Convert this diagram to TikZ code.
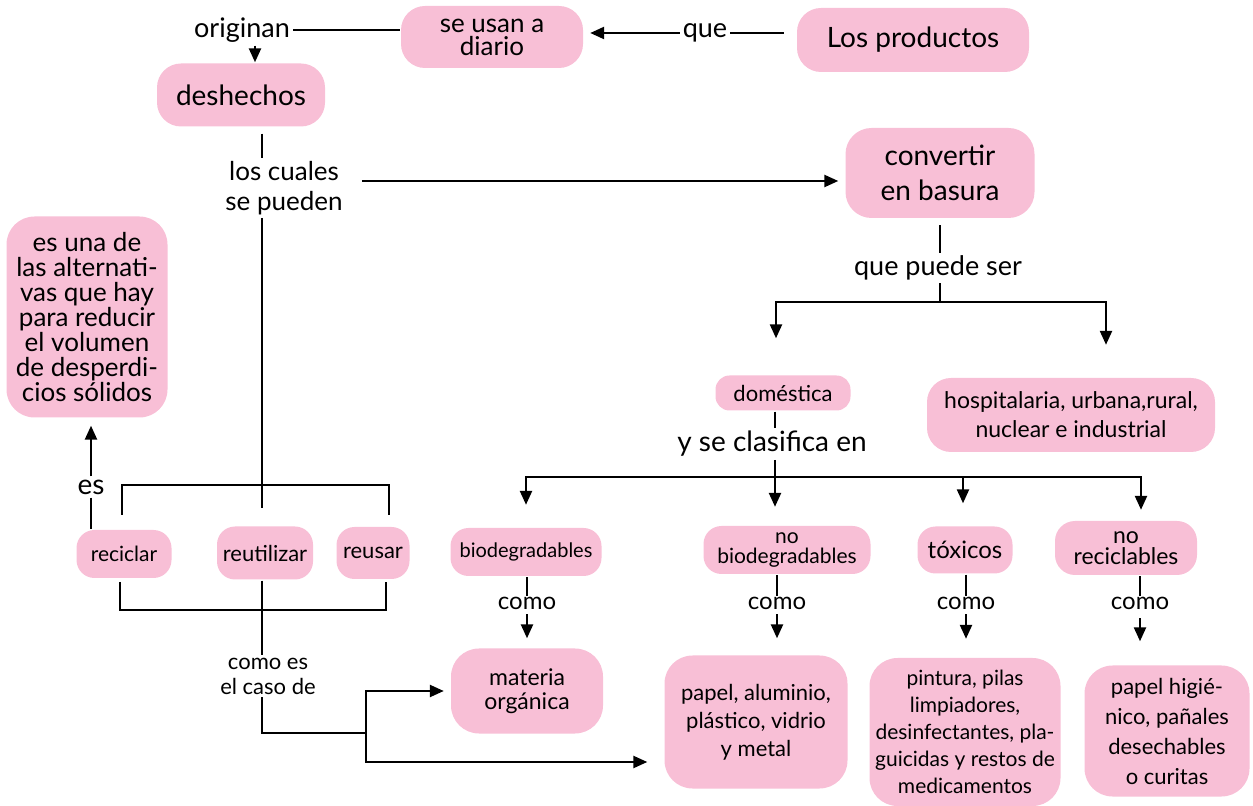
\documentclass[tikz,border=0pt]{standalone}
\usepackage{fontspec}
\setmainfont{Lato}
\usetikzlibrary{arrows.meta}
\definecolor{rosa}{RGB}{248,191,214}
\tikzset{
  caja/.style={fill=rosa, rounded corners=10pt, align=center, inner sep=2pt},
  texto/.style={align=center, inner sep=1pt},
}
\begin{document}
\begin{tikzpicture}[x=0.5pt, y=-0.5pt, line width=1.2pt, >={Triangle[length=7pt,width=6pt]}]
        \useasboundingbox (0,0) rectangle (1253,806);
        % parte superior
        \node[caja, minimum width=116pt, minimum height=32pt, rounded corners=12pt, font=\fontsize{14}{15}\selectfont] (prod) at (913,40) {Los productos};
        \node[texto, font=\fontsize{13.5}{15}\selectfont] (que) at (705,33) {que};
        \node[caja, minimum width=91pt, minimum height=31pt, rounded corners=12pt, font=\fontsize{13}{11.5}\selectfont] (usan) at (492,37) {se usan a\\diario};
        \node[texto, font=\fontsize{13.5}{15}\selectfont] (orig) at (242,30) {originan};
        \node[caja, minimum width=84pt, minimum height=31.5pt, rounded corners=12pt, font=\fontsize{14}{15}\selectfont] (desh) at (241,95) {deshechos};
        \node[texto, font=\fontsize{13}{15}\selectfont] (cuales) at (284,188) {los cuales\\se pueden};
        \node[caja, minimum width=94.5pt, minimum height=45pt, rounded corners=13pt, font=\fontsize{14}{17.5}\selectfont] (basura) at (940,173) {convertir\\en basura};
        \node[texto, font=\fontsize{13.5}{15}\selectfont] (puede) at (938,268) {que puede ser};
        % tipos de basura
        \node[caja, minimum width=67.5pt, minimum height=17.5pt, rounded corners=7pt, font=\fontsize{11}{12}\selectfont] (domes) at (783,393) {doméstica};
        \node[caja, minimum width=144pt, minimum height=37pt, rounded corners=12pt, font=\fontsize{11.5}{14.5}\selectfont] (hosp) at (1071,415) {hospitalaria, urbana,rural,\\nuclear e industrial};
        \node[texto, font=\fontsize{14}{15}\selectfont] (clasif) at (772,444) {y se clasifica en};
        \node[caja, minimum width=75.5pt, minimum height=24pt, rounded corners=9pt, font=\fontsize{10}{11}\selectfont] (bio) at (526,552) {biodegradables};
        \node[caja, minimum width=83.5pt, minimum height=24pt, rounded corners=9pt, font=\fontsize{10.5}{10}\selectfont] (nobio) at (787,550) {no\\biodegradables};
        \node[caja, minimum width=47.5pt, minimum height=23.5pt, rounded corners=9pt, font=\fontsize{12}{13}\selectfont] (tox) at (965,550) {tóxicos};
        \node[caja, minimum width=71pt, minimum height=27pt, rounded corners=10pt, font=\fontsize{11.5}{10.5}\selectfont] (norec) at (1126,548) {no\\reciclables};
        \node[texto, inner sep=0pt, font=\fontsize{12}{13}\selectfont] (como1) at (527,603) {como};
        \node[texto, inner sep=0pt, font=\fontsize{12}{13}\selectfont] (como2) at (777,603) {como};
        \node[texto, inner sep=0pt, font=\fontsize{12}{13}\selectfont] (como3) at (966,603) {como};
        \node[texto, inner sep=0pt, font=\fontsize{12}{13}\selectfont] (como4) at (1140,603) {como};
        \node[caja, minimum width=76pt, minimum height=42.5pt, rounded corners=14pt, font=\fontsize{11.5}{12}\selectfont] (mat) at (527,691) {materia\\orgánica};
        \node[caja, minimum width=91.5pt, minimum height=66.5pt, rounded corners=14pt, font=\fontsize{11}{14}\selectfont] (papel) at (756,722) {papel, aluminio,\\plástico, vidrio\\y metal};
        \node[caja, minimum width=95.5pt, minimum height=74pt, rounded corners=14pt, font=\fontsize{10.5}{13.5}\selectfont] (pint) at (965,732) {pintura, pilas\\limpiadores,\\desinfectantes, pla-\\guicidas y restos de\\medicamentos};
        \node[caja, minimum width=82.5pt, minimum height=65.5pt, rounded corners=14pt, font=\fontsize{11}{15}\selectfont] (higi) at (1167,731) {papel higié-\\nico, pañales\\desechables\\o curitas};
        % parte izquierda
        \node[caja, minimum width=80.5pt, minimum height=100.5pt, rounded corners=14pt, font=\fontsize{13}{12.5}\selectfont] (alt) at (87,317) {es una de\\las alternati-\\vas que hay\\para reducir\\el volumen\\de desperdi-\\cios sólidos};
        \node[texto, font=\fontsize{14}{15}\selectfont] (es) at (91,487) {es};
        \node[caja, minimum width=47.5pt, minimum height=24pt, rounded corners=9pt, font=\fontsize{10.5}{12}\selectfont] (recic) at (124,554) {reciclar};
        \node[caja, minimum width=48pt, minimum height=26.5pt, rounded corners=9pt, font=\fontsize{11}{12}\selectfont] (reut) at (265,553) {reutilizar};
        \node[caja, minimum width=36.5pt, minimum height=26pt, rounded corners=9pt, font=\fontsize{11}{12}\selectfont] (reus) at (373,553) {reusar};
        \node[texto, font=\fontsize{11}{12.5}\selectfont] (caso) at (268,676) {como es\\el caso de};
        % puntos de apoyo
        \coordinate (ejeA) at (262,0);
        \coordinate (ejeB) at (940,0);
        \coordinate (ejeC) at (775,0);
        \coordinate (ramaB) at (940,302);
        \coordinate (ramaC) at (775,477);
        \coordinate (ramaD) at (366,733);
        \coordinate (llaveI) at (122,485);
        \coordinate (llaveD) at (389,485);
        \coordinate (llaveIb) at (120,610);
        \coordinate (llaveDb) at (386,610);
        % conectores de arriba
        \draw[shorten <=6pt] (prod.west |- que.east) -- (que.east);
        \draw[->, shorten >=3pt] (que.west) -- (que.west -| usan.east);
        \draw (usan.west |- orig.east) -- (orig.east);
        \draw[->] ([xshift=6.5pt]orig.south) -- ([xshift=7pt]desh.north);
        \draw[shorten <=3pt] (desh.south -| ejeA) -- (cuales.north -| ejeA);
        \draw[->, shorten <=8pt, shorten >=3pt] ([yshift=3.5pt]cuales.east) -- ([yshift=3.5pt]cuales.east -| basura.west);
        \draw[shorten <=3pt] (basura.south -| ejeB) -- (puede.north -| ejeB);
        \draw (puede.south -| ejeB) -- (ramaB);
        \draw[->, shorten >=18pt] (ramaB) -| ([xshift=-3.5pt]domes.north);
        \draw[->, shorten >=16pt] (ramaB) -| ([xshift=17.5pt]hosp.north);
        % conectores de domestica
        \draw (domes.south -| ejeC) -- (clasif.north -| ejeC);
        \draw (clasif.south -| ejeC) -- (ramaC);
        \draw[->, shorten >=11pt] (ramaC) -| (bio.north);
        \draw[->, shorten >=9pt] (ramaC) -- (ramaC |- nobio.north);
        \draw[->, shorten >=11pt] (ramaC) -| ([xshift=-1pt]tox.north);
        \draw[->, shorten >=5pt] (ramaC) -| ([xshift=7.5pt]norec.north);
        \draw (bio.south -| como1) -- (como1.north);
        \draw (nobio.south -| como2) -- (como2.north);
        \draw (tox.south -| como3) -- (como3.north);
        \draw (norec.south -| como4) -- (como4.north);
        \draw[->, shorten <=2pt, shorten >=4.5pt] (como1.south) -- (como1.south |- mat.north);
        \draw[->, shorten <=2pt, shorten >=8pt] (como2.south) -- (como2.south |- papel.north);
        \draw[->, shorten <=2pt, shorten >=9pt] (como3.south) -- (como3.south |- pint.north);
        \draw[->, shorten <=4pt, shorten >=11.5pt] (como4.south) -- (como4.south |- higi.north);
        % conectores de la izquierda
        \draw[shorten >=8.5pt] (cuales.south -| ejeA) -- (reut.north -| ejeA);
        \draw ([yshift=-15pt]llaveI) -- (llaveI) -- (llaveD) -- ([yshift=-15pt]llaveD);
        \draw[->, shorten >=3.5pt] (es.north) -- (es.north |- alt.south);
        \draw (es.south) -- (es.south |- recic.north);
        \draw ([yshift=14pt]llaveIb) -- (llaveIb) -- (llaveDb) -- ([yshift=14pt]llaveDb);
        \draw (reut.south -| ejeA) -- (caso.north -| ejeA);
        \draw (caso.south -| ejeA) |- (ramaD);
        \draw[->, shorten >=3pt] (ramaD) |- (mat.west);
        \draw[->, shorten >=8pt] (ramaD) |- ([yshift=-20pt]papel.west);
    \end{tikzpicture}
\end{document}
